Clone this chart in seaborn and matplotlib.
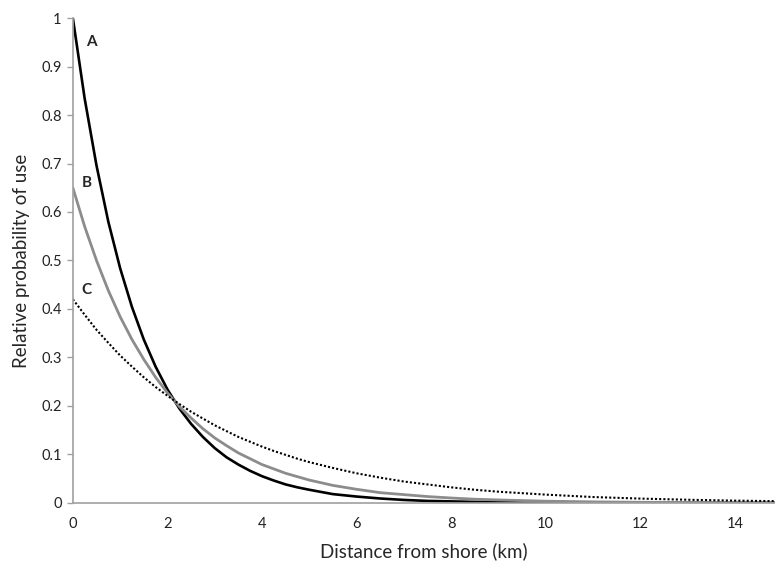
import numpy as np
import pandas as pd
import matplotlib
matplotlib.use("Agg")
import matplotlib.pyplot as plt
import seaborn as sns

# ----------------------------------------------------------
# Values
# ----------------------------------------------------------

distance_km = [0, 0.25, 0.5, 0.75, 1, 1.25, 1.5, 1.75, 2, 2.25, 2.5, 2.75,
               3, 3.25, 3.5, 3.75, 4, 4.25, 4.5, 4.75, 5, 5.5, 6, 6.5, 7,
               7.5, 8, 8.5, 9, 10, 11, 12, 13, 14, 15]

curve_a = [1.000, 0.834, 0.696, 0.580, 0.484, 0.404, 0.337, 0.281, 0.234,
           0.195, 0.163, 0.136, 0.113, 0.094, 0.079, 0.066, 0.055, 0.046,
           0.038, 0.032, 0.027, 0.018, 0.013, 0.009, 0.006, 0.004, 0.003,
           0.002, 0.0015, 0.0007, 0.0003, 0.0002, 0.0001, 0.0, 0.0]

curve_b = [0.650, 0.570, 0.500, 0.438, 0.384, 0.337, 0.296, 0.259, 0.227,
           0.199, 0.175, 0.153, 0.134, 0.118, 0.103, 0.091, 0.079, 0.070,
           0.061, 0.054, 0.047, 0.036, 0.028, 0.021, 0.017, 0.013, 0.010,
           0.0075, 0.006, 0.0034, 0.002, 0.0012, 0.0007, 0.0004, 0.0002]

curve_c = [0.420, 0.388, 0.357, 0.330, 0.304, 0.281, 0.259, 0.239, 0.221,
           0.204, 0.188, 0.174, 0.160, 0.148, 0.136, 0.126, 0.116, 0.107,
           0.099, 0.091, 0.084, 0.072, 0.061, 0.052, 0.044, 0.038, 0.032,
           0.027, 0.023, 0.017, 0.012, 0.0088, 0.0064, 0.0046, 0.0033]

curve_names = ["A", "B", "C"]
label_x = [0.40, 0.29, 0.29]
label_y = [0.95, 0.66, 0.44]

y_ticks = [0, 0.1, 0.2, 0.3, 0.4, 0.5, 0.6, 0.7, 0.8, 0.9, 1]
y_tick_labels = ["0", "0.1", "0.2", "0.3", "0.4", "0.5", "0.6", "0.7", "0.8", "0.9", "1"]
x_ticks = [0, 2, 4, 6, 8, 10, 12, 14]

# ----------------------------------------------------------
# Plot
# ----------------------------------------------------------

sns.set_style("white")
plt.rcParams["font.family"] = ["Lato", "DejaVu Sans"]

df = pd.DataFrame({
    "distance": distance_km * 3,
    "prob": curve_a + curve_b + curve_c,
    "curve": np.repeat(curve_names, len(distance_km)),
})

fig = plt.figure(figsize=(7.75, 5.65), dpi=100)
ax = fig.add_axes([0.094, 0.110, 0.906, 0.858])

styles = {
    "A": dict(color="black", linewidth=1.9, linestyle="-"),
    "B": dict(color="#8c8c8c", linewidth=2.0, linestyle="-"),
    "C": dict(color="black", linewidth=1.5, linestyle=(0, (1, 1))),
}

for name in curve_names:
    sns.lineplot(data=df[df["curve"] == name], x="distance", y="prob",
                 ax=ax, **styles[name])

for name, lx, ly in zip(curve_names, label_x, label_y):
    ax.text(lx, ly, name, fontsize=11, fontweight="bold", ha="center", va="center")

ax.set_xlim(0, 14.85)
ax.set_ylim(0, 1)
ax.set_xticks(x_ticks)
ax.set_yticks(y_ticks)
ax.set_yticklabels(y_tick_labels)

ax.tick_params(axis="x", length=0, pad=10, labelsize=10.5, colors="#222222")
ax.tick_params(axis="y", length=4, width=1, color="#a0a0a0", pad=4,
               labelsize=10.5, labelcolor="#222222", left=True)

for s in ["top", "right"]:
    ax.spines[s].set_visible(False)
for s in ["left", "bottom"]:
    ax.spines[s].set_color("#a0a0a0")
    ax.spines[s].set_linewidth(1.2)

ax.set_xlabel("Distance from shore (km)", fontsize=13.5, labelpad=8)
ax.set_ylabel("Relative probability of use", fontsize=13.5, labelpad=8)

fig.savefig("out.png", dpi=100)
